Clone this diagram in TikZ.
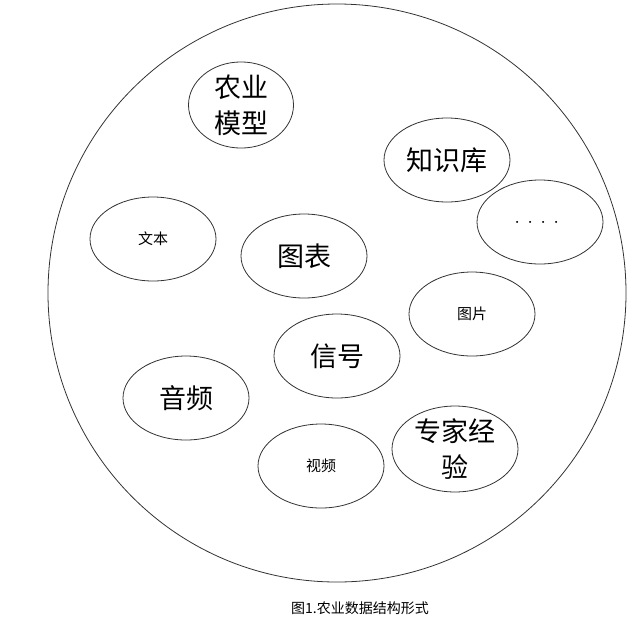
\documentclass[tikz,border=0pt]{standalone}
\usepackage{fontspec}
\setmainfont{Noto Sans CJK SC}
\usetikzlibrary{shapes}

\begin{document}
\begin{tikzpicture}[x=1pt,y=-1pt,
		blob/.style={ellipse,draw=black!80,line width=0.8pt,inner sep=0pt,
			minimum width=126pt,minimum height=84pt,align=center},
		bigtext/.style={font=\fontsize{27}{36}\selectfont},
		smalltext/.style={font=\fontsize{15}{18}\selectfont}]
		\useasboundingbox (0,0) rectangle (640,622);
		\node[circle,draw=black!80,line width=0.8pt,minimum size=578pt] (whole) at (337,293) {};
		%
		\node[blob,bigtext,minimum width=105pt] (model) at (241,105) {农业\\模型};
		\node[blob,bigtext] (know) at (447,160) {知识库};
		\node[blob,font=\fontsize{13}{15}\selectfont] (more) at (540,222) {．．．．};
		\node[blob,smalltext] (text) at (153,239) {文本};
		\node[blob,bigtext] (chart) at (304,256) {图表};
		\node[blob,smalltext] (image) at (472,314) {图片};
		\node[blob,bigtext] (signal) at (337,356) {信号};
		\node[blob,bigtext] (audio) at (186,398) {音频};
		\node[blob,smalltext] (video) at (321,466) {视频};
		\node[blob,bigtext] (expert) at (455,449) {专家经\\验};
		%
		\node[font=\fontsize{14}{16}\selectfont] (caption) at (360,608) {图1.农业数据结构形式};
	\end{tikzpicture}
\end{document}
